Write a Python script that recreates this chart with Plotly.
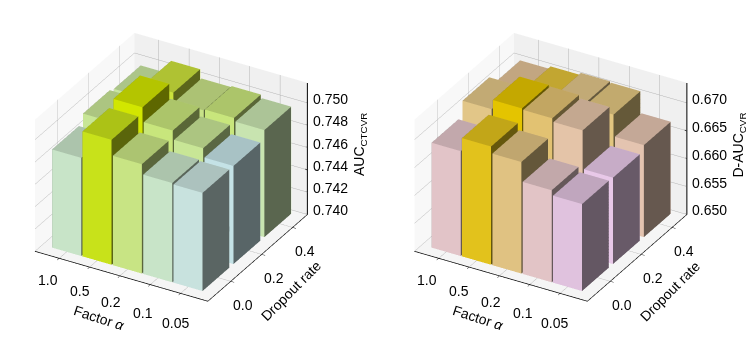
import plotly.graph_objects as go

factors = ['1.0', '0.5', '0.2', '0.1', '0.05']
dropouts = ['0.0', '0.2', '0.4']

# rows are dropout rate, columns are factor
auc_ctcvr = [
    [0.7488, 0.7512, 0.7498, 0.7489, 0.7488],
    [0.7496, 0.7517, 0.7504, 0.7496, 0.7488],
    [0.7494, 0.7506, 0.7498, 0.7499, 0.7496],
]
d_auc_cvr = [
    [0.6688, 0.6712, 0.6700, 0.6665, 0.6656],
    [0.6715, 0.6732, 0.6730, 0.6724, 0.6655],
    [0.6697, 0.6702, 0.6706, 0.6704, 0.6665],
]
ticks_ctcvr = [0.740, 0.742, 0.744, 0.746, 0.748, 0.750]
ticks_cvr = [0.650, 0.655, 0.660, 0.665, 0.670]

colors_ctcvr = [
    ['#C8E4C8', '#C8E21A', '#C8E484', '#C8E4C8', '#C8E2DE'],
    ['#C8E696', '#D2E600', '#C8E67C', '#C8E696', '#C4E2E6'],
    ['#C8E6A0', '#CCE23C', '#C8E288', '#C8E67C', '#C8E4B0'],
]
colors_cvr = [
    ['#E2C4C8', '#E2C21C', '#E0C282', '#E2C4C6', '#E0C2DE'],
    ['#E2C688', '#E4C400', '#E2C272', '#E4C4A8', '#E8C8E8'],
    ['#E2C296', '#E2C23A', '#E2C68A', '#E2C680', '#E4C4B0'],
]

FONT = 'Liberation Sans'
XR = [-0.8, 4.9]
YR = [-0.74, 2.48]
CENTER = dict(x=0.13, y=0.075, z=-0.087)
EYE = dict(x=0.80 + 0.13, y=-1.39 + 0.075, z=0.93 - 0.087)


def shade(c, k):
    r, g, b = int(c[1:3], 16), int(c[3:5], 16), int(c[5:7], 16)
    return 'rgb(%d,%d,%d)' % (r * k, g * k, b * k)


def bars(values, colors, zmin, scene):
    xs, ys, zs, ii, jj, kk, fc = [], [], [], [], [], [], []
    for j, row in enumerate(values):
        for i, v in enumerate(row):
            n = len(xs)
            x0, x1 = i - 0.48, i + 0.48
            y0, y1 = j - 0.5, j + 0.37
            xs += [x0, x1, x1, x0, x0, x1, x1, x0]
            ys += [y0, y0, y1, y1, y0, y0, y1, y1]
            zs += [zmin] * 4 + [v] * 4
            c = colors[j][i]
            faces = [
                ((4, 5, 6), 0.86), ((4, 6, 7), 0.86),  # top
                ((0, 1, 5), 1.0), ((0, 5, 4), 1.0),  # front
                ((1, 2, 6), 0.45), ((1, 6, 5), 0.45),  # right
                ((3, 0, 4), 0.45), ((3, 4, 7), 0.45),  # left
                ((2, 3, 7), 1.0), ((2, 7, 6), 1.0),  # back
            ]
            for (a, b, d), k in faces:
                ii.append(n + a)
                jj.append(n + b)
                kk.append(n + d)
                fc.append(shade(c, k))
    return go.Mesh3d(x=xs, y=ys, z=zs, i=ii, j=jj, k=kk, facecolor=fc, flatshading=True,
                     lighting=dict(ambient=1, diffuse=0, specular=0, fresnel=0, roughness=1),
                     hoverinfo='skip', scene=scene)


def z_axis_line(zticks, zrange, scene):
    # plotly puts the z axis on the left from this camera, so draw it on the right
    xs, ys, zs = [XR[1], XR[1], None], [YR[1], YR[1], None], [zrange[0], zrange[1], None]
    for t in zticks:
        xs += [XR[1] - 0.07, XR[1] + 0.07, None]
        ys += [YR[1], YR[1], None]
        zs += [t, t, None]
    return go.Scatter3d(x=xs, y=ys, z=zs, mode='lines', line=dict(color='black', width=2),
                        hoverinfo='skip', scene=scene)


def label(x, y, z, text, dx, dy, size=14, angle=0):
    return dict(x=x, y=y, z=z, text=text, showarrow=False, xshift=dx, yshift=-dy, textangle=angle,
                font=dict(size=size, family=FONT, color='black'))


def axis(rng, bg, tickvals, line=True):
    return dict(title=dict(text=''), tickvals=tickvals, range=rng, showticklabels=False,
                showbackground=True, backgroundcolor=bg,
                gridcolor='#b4b4b4', gridwidth=1, zeroline=False,
                showline=line, linecolor='black', linewidth=1.5,
                ticks='outside' if line else '', ticklen=4, tickcolor='black', showspikes=False)


def scene(dom, ztitle, zticks, zrange):
    ann = []
    for i, t in enumerate(factors):
        ann.append(label(i, YR[0], zrange[0], t, -11.5 + 1.5 * i, 22 + 2 * i))
    for j, t in enumerate(dropouts):
        ann.append(label(XR[1], j, zrange[0], t, 12, 24))
    for t in zticks:
        ann.append(label(XR[1], YR[1], t, '%.3f' % t, 23, -4))
    ann.append(label(sum(XR) / 2, YR[0], zrange[0], 'Factor <i>α</i>', -22, 42, 14, 18))
    ann.append(label(XR[1], sum(YR) / 2, zrange[0], 'Dropout rate', 33, 33, 14, -45))
    ann.append(label(XR[1], YR[1], sum(zrange) / 2, ztitle, 52, -4, 14, -90))
    return dict(domain=dict(x=dom, y=[0, 1]),
                xaxis=axis(XR, '#f8f8f8', list(range(5))),
                yaxis=axis(YR, '#f0f0f0', [0, 1, 2]),
                zaxis=axis(zrange, '#f5f5f5', zticks, False),
                aspectmode='manual', aspectratio=dict(x=1.16, y=1.16, z=0.885),
                annotations=ann,
                camera=dict(eye=EYE, center=CENTER, projection=dict(type='orthographic')))


fig = go.Figure()
fig.add_trace(bars(auc_ctcvr, colors_ctcvr, 0.740, 'scene'))
fig.add_trace(z_axis_line(ticks_ctcvr, [0.740, 0.7518], 'scene'))
fig.add_trace(bars(d_auc_cvr, colors_cvr, 0.650, 'scene2'))
fig.add_trace(z_axis_line(ticks_cvr, [0.650, 0.6736], 'scene2'))
fig.update_layout(
    width=756, height=344, margin=dict(l=0, r=0, t=0, b=0),
    paper_bgcolor='white', showlegend=False,
    scene=scene([0, 0.5], 'AUC<sub>CTCVR</sub>', ticks_ctcvr, [0.740, 0.7518]),
    scene2=scene([0.504, 1], 'D-AUC<sub>CVR</sub>', ticks_cvr, [0.650, 0.6736]),
)
fig.write_html('out.html')
